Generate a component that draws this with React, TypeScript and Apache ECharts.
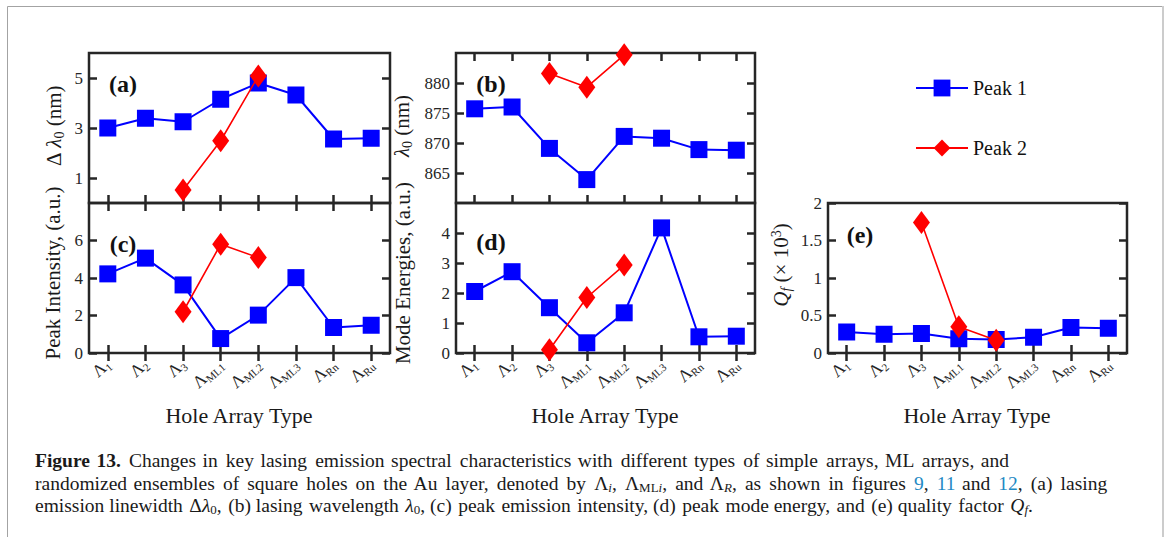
import React, { useEffect, useRef } from 'react';
import * as echarts from 'echarts';

// ---------- data ----------
const categorySubs = ['1', '2', '3', 'ML1', 'ML2', 'ML3', 'Rn', 'Ru'];
const categories = categorySubs.map((s) => 'Λ' + s);

const aPeak1 = [3.0, 3.39, 3.25, 4.15, 4.8, 4.32, 2.56, 2.59];
const aPeak2 = ['-', '-', 0.52, 2.49, 5.08, '-', '-', '-'];
const bPeak1 = [875.7, 876.0, 869.1, 863.9, 871.1, 870.8, 868.9, 868.8];
const bPeak2 = ['-', '-', 881.6, 879.3, 884.7, '-', '-', '-'];
const cPeak1 = [4.22, 5.06, 3.63, 0.77, 2.02, 4.02, 1.36, 1.48];
const cPeak2 = ['-', '-', 2.2, 5.8, 5.09, '-', '-', '-'];
const dPeak1 = [2.05, 2.71, 1.51, 0.34, 1.34, 4.17, 0.54, 0.56];
const dPeak2 = ['-', '-', 0.11, 1.85, 2.93, '-', '-', '-'];
const ePeak1 = [0.28, 0.25, 0.26, 0.19, 0.18, 0.21, 0.34, 0.33];
const ePeak2 = ['-', '-', 1.74, 0.35, 0.17, '-', '-', '-'];

const aTicks = [1, 3, 5];
const bTicks = [865, 870, 875, 880];
const cTicks = [0, 2, 4, 6];
const dTicks = [0, 1, 2, 3, 4];
const eTicks = [0, 0.5, 1, 1.5, 2];

const seriesNames = ['Peak 1', 'Peak 2'];

// ---------- styling ----------
const FONT = '"Liberation Serif", "Times New Roman", serif';
const AX = '#262626';
const BLUE = '#0000ff';
const RED = '#ff0000';

const panels = [
  { tag: '(a)', left: 89, top: 53, width: 301, min: 0, max: 6, ticks: aTicks, p1: aPeak1, p2: aPeak2, labels: false, tagPos: [123, 84] },
  { tag: '(b)', left: 456, top: 53, width: 299, min: 860, max: 885, ticks: bTicks, p1: bPeak1, p2: bPeak2, labels: false, tagPos: [491, 84] },
  { tag: '(c)', left: 89, top: 203, width: 301, min: 0, max: 8, ticks: cTicks, p1: cPeak1, p2: cPeak2, labels: true, tagPos: [123, 244] },
  { tag: '(d)', left: 456, top: 203, width: 299, min: 0, max: 5, ticks: dTicks, p1: dPeak1, p2: dPeak2, labels: true, tagPos: [491, 242] },
  { tag: '(e)', left: 828, top: 203, width: 299, min: 0, max: 2, ticks: eTicks, p1: ePeak1, p2: ePeak2, labels: true, tagPos: [860, 235] },
];

// widen the spaces of a caption line by a fractional number of hair spaces per space
function spread(text: string, hairsPerSpace: number) {
  let k = 0;
  return text.replace(/ /g, () => {
    const n = Math.floor((k + 1) * hairsPerSpace) - Math.floor(k * hairsPerSpace);
    k += 1;
    return ' ' + '\u200A'.repeat(n);
  });
}

function buildOption() {
  const grid: any[] = [];
  const xAxis: any[] = [];
  const yAxis: any[] = [];
  const series: any[] = [];
  const tickLine = { color: AX, width: 2.5 };

  panels.forEach((p, i) => {
    grid.push({
      left: p.left, top: p.top, width: p.width, height: 150,
      show: true, borderColor: AX, borderWidth: 2.5, backgroundColor: 'transparent',
    });
    ['bottom', 'top'].forEach((pos, k) => {
      xAxis.push({
        type: 'category', gridIndex: i, position: pos, data: categories, boundaryGap: true,
        axisLine: { show: false },
        axisTick: { show: true, inside: true, alignWithLabel: true, interval: 0, length: 8, lineStyle: tickLine },
        splitLine: { show: false },
        axisLabel: {
          show: p.labels && k === 0, interval: 0, rotate: 42, margin: 9,
          formatter: (v: string) => `{m|Λ}{s|${v.slice(1)}}`,
          rich: {
            m: { fontFamily: FONT, fontSize: 17, color: AX, lineHeight: 20, verticalAlign: 'middle' },
            s: { fontFamily: FONT, fontSize: 11, color: AX, lineHeight: 11, verticalAlign: 'bottom' },
          },
        },
      });
    });
    ['left', 'right'].forEach((pos, k) => {
      yAxis.push({
        type: 'value', gridIndex: i, position: pos, min: p.min, max: p.max,
        axisLine: { show: false },
        splitLine: { show: false },
        axisTick: { show: true, inside: true, length: 8, lineStyle: tickLine, customValues: p.ticks },
        axisLabel: {
          show: k === 0, customValues: p.ticks, fontFamily: FONT, fontSize: 17, color: AX, margin: 6,
        },
      });
    });
    series.push({
      type: 'line', name: seriesNames[0], xAxisIndex: 2 * i, yAxisIndex: 2 * i, data: p.p1,
      symbol: 'rect', symbolSize: 17, itemStyle: { color: BLUE }, lineStyle: { color: BLUE, width: 2 }, z: 3,
    });
    series.push({
      type: 'line', name: seriesNames[1], xAxisIndex: 2 * i, yAxisIndex: 2 * i, data: p.p2,
      symbol: 'diamond', symbolSize: [17, 23], itemStyle: { color: RED }, lineStyle: { color: RED, width: 1.6 }, z: 4,
    });
  });

  const txt = (x: number, y: number, text: string, extra: any = {}, rot = 0, rich: any = undefined) => ({
    type: 'text', x, y, rotation: rot, z: 10,
    style: {
      text, fontFamily: FONT, fontSize: 21, fill: '#1a1a1a', align: 'center', verticalAlign: 'middle',
      ...(rich ? { rich } : {}), ...extra,
    },
  });

  const titleRich = {
    n: { fontFamily: FONT, fontSize: 21, fill: '#1a1a1a', lineHeight: 24, verticalAlign: 'middle' },
    it: { fontFamily: FONT, fontSize: 21, fontStyle: 'italic', fill: '#1a1a1a', lineHeight: 24, verticalAlign: 'middle' },
    s: { fontFamily: FONT, fontSize: 14, fill: '#1a1a1a', lineHeight: 14, verticalAlign: 'bottom' },
    si: { fontFamily: FONT, fontSize: 14, fontStyle: 'italic', fill: '#1a1a1a', lineHeight: 14, verticalAlign: 'bottom' },
    sup: { fontFamily: FONT, fontSize: 14, fill: '#1a1a1a', lineHeight: 14, verticalAlign: 'top' },
  };

  const capRich = {
    b: { fontFamily: FONT, fontSize: 19.5, fontWeight: 'bold', fill: '#1a1a1a', lineHeight: 22, verticalAlign: 'middle' },
    it: { fontFamily: FONT, fontSize: 19.5, fontStyle: 'italic', fill: '#1a1a1a', lineHeight: 22, verticalAlign: 'middle' },
    s: { fontFamily: FONT, fontSize: 13, fill: '#1a1a1a', lineHeight: 13, verticalAlign: 'bottom' },
    si: { fontFamily: FONT, fontSize: 13, fontStyle: 'italic', fill: '#1a1a1a', lineHeight: 13, verticalAlign: 'bottom' },
    l: { fontFamily: FONT, fontSize: 19.5, fill: '#1f8ac4', lineHeight: 22, verticalAlign: 'middle' },
  };
  const cap = (y: number, text: string, hairs: number) => ({
    type: 'text', x: 35, y, z: 10,
    style: {
      text: spread(text, hairs), rich: capRich, fontFamily: FONT, fontSize: 19.5, lineHeight: 22,
      fill: '#1a1a1a', align: 'left', verticalAlign: 'middle',
    },
  });

  const graphic: any[] = [
    { type: 'rect', shape: { x: 7.5, y: 6.5, width: 1155, height: 700 }, style: { fill: 'none', stroke: '#a3a3a3', lineWidth: 1 }, z: 1 },
    { type: 'line', shape: { x1: 1163, y1: 6, x2: 1163, y2: 537 }, style: { stroke: '#cccccc', lineWidth: 2 }, z: 1 },
    ...panels.map((p) => txt(p.tagPos[0], p.tagPos[1], p.tag, { fontWeight: 'bold', fontSize: 24, fill: '#111' })),
    txt(54, 126, '{n|Δ }{it|λ}{s|0}{n| (nm)}', {}, Math.PI / 2, titleRich),
    txt(53, 273, 'Peak Intensity, (a.u.)', {}, Math.PI / 2),
    txt(402, 126, '{it|λ}{s|0}{n| (nm)}', {}, Math.PI / 2, titleRich),
    txt(403, 273, 'Mode Energies, (a.u.)', {}, Math.PI / 2),
    txt(781, 265, '{it|Q}{si|f}{n| (× 10}{sup|3}{n|)}', {}, Math.PI / 2, titleRich),
    txt(239, 415, 'Hole Array Type', { fontSize: 22 }),
    txt(605, 415, 'Hole Array Type', { fontSize: 22 }),
    txt(977, 415, 'Hole Array Type', { fontSize: 22 }),
    cap(460, '{b|Figure 13.} Changes in key lasing emission spectral characteristics with different types of simple arrays, ML arrays, and', 1.5),
    cap(483, 'randomized ensembles of square holes on the Au layer, denoted by Λ{si|i}, Λ{s|ML}{si|i}, and Λ{si|R}, as shown in figures {l|9}, {l|11} and {l|12}, (a) lasing', 1.85),
    cap(505, 'emission linewidth Δ{it|λ}{s|0}, (b) lasing wavelength {it|λ}{s|0}, (c) peak emission intensity, (d) peak mode energy, and (e) quality factor {it|Q}{si|f}.', 0.7),
  ];

  return {
    animation: false,
    backgroundColor: '#ffffff',
    grid, xAxis, yAxis, series, graphic,
    legend: {
      data: seriesNames, orient: 'vertical', left: 915, top: 78, padding: 0,
      itemWidth: 52, itemHeight: 21, itemGap: 40,
      textStyle: { fontFamily: FONT, fontSize: 20, color: '#111' },
    },
  };
}

export default function App() {
  const ref = useRef<HTMLDivElement>(null);
  useEffect(() => {
    if (!ref.current) return;
    const chart = echarts.init(ref.current, undefined, { renderer: 'svg' });
    chart.setOption(buildOption() as any);
    return () => chart.dispose();
  }, []);
  return <div ref={ref} style={{ position: 'absolute', left: 0, top: 0, width: 1165, height: 537 }} />;
}
